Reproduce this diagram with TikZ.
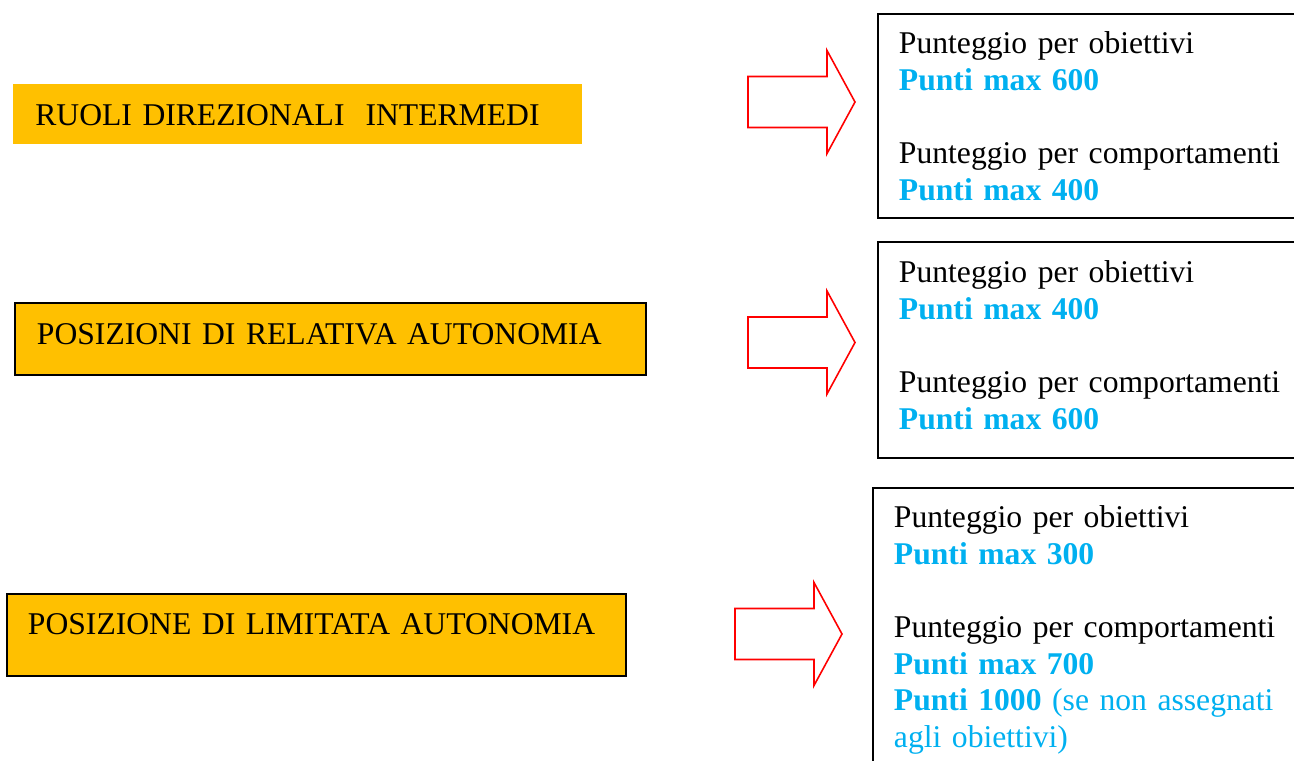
\documentclass[tikz,border=0pt]{standalone}
\usepackage{fontspec}
\setmainfont{Liberation Serif}
\usepackage{xcolor}
\usepackage{tikz}

\definecolor{gold}{RGB}{255,192,0}
\definecolor{sky}{RGB}{0,176,240}
\newcommand{\pmax}[1]{\textcolor{sky}{\textbf{#1}}}

\tikzset{
  role/.style={fill=gold, anchor=north west, align=left, inner xsep=0.44cm, inner ysep=0pt},
  score/.style={draw, line width=1.1pt, anchor=north west, align=left, inner xsep=0.42cm, inner ysep=0pt, text width=9cm},
  fatarrow/.pic={\draw[red, line width=0.9pt] (0,-25.5) -- (79,-25.5) -- (79,-51.5) -- (107,0) -- (79,51.5) -- (79,25.5) -- (0,25.5) -- cycle;}
}

\begin{document}
\begin{tikzpicture}[x=0.2mm, y=-0.2mm, font=\fontsize{18}{20.8}\selectfont]
\useasboundingbox (0,0) rectangle (1294,760);
\clip (0,0) rectangle (1294,760);

% roles on the left
\node[role, text width=10.5cm, text height=0.82cm, text depth=0.38cm] (ruoli) at (13,84) {RUOLI DIREZIONALI\ \ INTERMEDI};
\node[role, draw, line width=1.1pt, text width=11.74cm, text height=0.84cm, text depth=0.6cm] (relativa) at (14,302) {POSIZIONI DI RELATIVA AUTONOMIA};
\node[role, draw, line width=1.1pt, inner xsep=0.42cm, text width=11.54cm, text height=0.82cm, text depth=0.82cm] (limitata) at (6,593) {POSIZIONE DI LIMITATA AUTONOMIA};

% arrows
\pic at (748,102) {fatarrow};
\pic at (748,342.5) {fatarrow};
\pic at (735,634) {fatarrow};

% scores on the right
\node[score, text height=0.8cm, text depth=3.28cm] (puntiRuoli) at (877,13)
  {Punteggio per obiettivi\\ \pmax{Punti max 600}\\[20.8pt] Punteggio per comportamenti\\ \pmax{Punti max 400}};
\node[score, text height=0.82cm, text depth=3.5cm] (puntiRelativa) at (877,241)
  {Punteggio per obiettivi\\ \pmax{Punti max 400}\\[20.8pt] Punteggio per comportamenti\\ \pmax{Punti max 600}};
\node[score, text height=0.8cm, text depth=4.8cm] (puntiLimitata) at (872,487)
  {Punteggio per obiettivi\\ \pmax{Punti max 300}\\[20.8pt] Punteggio per comportamenti\\ \pmax{Punti max 700}\\
   \pmax{Punti 1000} \textcolor{sky}{(se non assegnati}\\ \textcolor{sky}{agli obiettivi)}};

\end{tikzpicture}
\end{document}
